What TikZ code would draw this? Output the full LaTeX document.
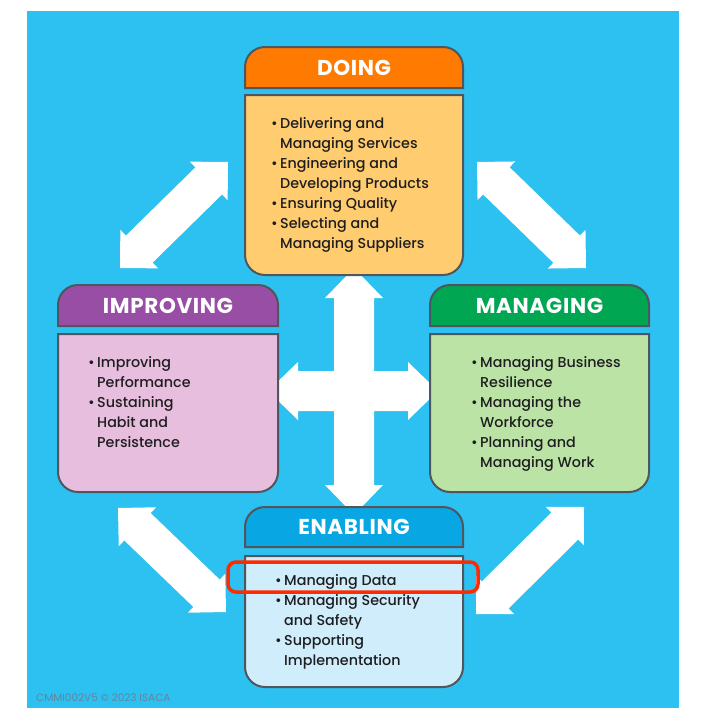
\documentclass[tikz,border=0pt]{standalone}
\usepackage{fontspec}
\setmainfont{Poppins}
\newfontfamily\medfont{Poppins Medium}
\newfontfamily\titlefont{Poppins}[LetterSpace=3]
\usetikzlibrary{calc}
\definecolor{bg}{RGB}{44,193,240}
\definecolor{bordercol}{RGB}{80,86,94}
\definecolor{doH}{RGB}{255,122,0}
\definecolor{doB}{RGB}{255,205,111}
\definecolor{imH}{RGB}{152,78,165}
\definecolor{imB}{RGB}{232,190,222}
\definecolor{maH}{RGB}{0,166,81}
\definecolor{maB}{RGB}{188,227,166}
\definecolor{enH}{RGB}{8,166,226}
\definecolor{enB}{RGB}{207,237,251}
\definecolor{hlred}{RGB}{255,42,0}
\definecolor{txt}{RGB}{30,30,32}
\definecolor{copy}{RGB}{100,132,158}
\newcommand\bul{\makebox[9pt][l]{\textbullet}}
\newcommand\ind{\hspace*{9pt}}
% header: #1 left x, #2 top y, #3 right x, #4 bottom y, #5 colour
\newcommand\headshape[5]{%
  \filldraw[boxline, fill=#5] (#1,#4) -- (#1,#2+20) arc[start angle=180, end angle=270, radius=20]
    -- (#3-20,#2) arc[start angle=270, end angle=360, radius=20] -- (#3,#4) -- cycle;}
\newcommand\bodyshape[5]{%
  \filldraw[boxline, fill=#5] (#1,#2) -- (#3,#2) -- (#3,#4-20) arc[start angle=0, end angle=90, radius=20]
    -- (#1+20,#4) arc[start angle=90, end angle=180, radius=20] -- cycle;}
% block double arrow between named tips #1 and #2
\newcommand\blockarrow[5]{%
  \fill[white] (#1) -- ($(#1)!#5!(#2)!#3!-90:(#2)$) -- ($(#1)!#5!(#2)!#4!-90:(#2)$)
    -- ($(#2)!#5!(#1)!#4!90:(#1)$) -- ($(#2)!#5!(#1)!#3!90:(#1)$) -- (#2)
    -- ($(#2)!#5!(#1)!#3!-90:(#1)$) -- ($(#2)!#5!(#1)!#4!-90:(#1)$)
    -- ($(#1)!#5!(#2)!#4!90:(#2)$) -- ($(#1)!#5!(#2)!#3!90:(#2)$) -- cycle;}
\begin{document}
\begin{tikzpicture}[x=1pt,y=-1pt,
  boxline/.style={draw=bordercol, line width=2pt},
  title/.style={text=white, font=\titlefont\fontsize{21.5}{24}\selectfont\bfseries, inner sep=0pt},
  items/.style={text=txt, font=\medfont\fontsize{14.3}{20}\selectfont, align=left, inner sep=0pt, anchor=base west}]
\useasboundingbox (0,0) rectangle (725,720);
\fill[bg] (27,11) rectangle (679,708);

% arrows (connectors)
\coordinate (crossN) at (354,268);
\coordinate (crossS) at (354,515);
\coordinate (crossW) at (268,391);
\coordinate (crossE) at (438,391);
\blockarrow{crossN}{crossS}{29pt}{20pt}{30pt}
\blockarrow{crossW}{crossE}{29pt}{20pt}{30pt}
\coordinate (tlA) at (120,268);
\coordinate (tlB) at (228,162);
\coordinate (trA) at (477,162);
\coordinate (trB) at (586,268);
\coordinate (blA) at (118,508);
\coordinate (blB) at (226,612);
\coordinate (brA) at (476,614);
\coordinate (brB) at (584,507);
\blockarrow{tlA}{tlB}{27pt}{19pt}{27pt}
\blockarrow{trA}{trB}{27pt}{19pt}{27pt}
\blockarrow{blA}{blB}{27pt}{19pt}{27pt}
\blockarrow{brA}{brB}{27pt}{19pt}{27pt}

% DOING
\headshape{245}{47}{463}{88}{doH}
\bodyshape{245}{95}{463}{275}{doB}
\node[title] (doingT) at (354,68) {DOING};
\node[items] (doingL) at (271,248) {\bul Delivering and\\\ind Managing Services\\\bul Engineering and\\\ind Developing Products\\\bul Ensuring Quality\\\bul Selecting and\\\ind Managing Suppliers};

% IMPROVING
\headshape{58}{285}{278}{326}{imH}
\bodyshape{58}{334}{278}{492}{imB}
\node[title] (improvT) at (168,306) {IMPROVING};
\node[items] (improvL) at (88,447) {\bul Improving\\\ind Performance\\\bul Sustaining\\\ind Habit and\\\ind Persistence};

% MANAGING
\headshape{430}{285}{649}{326}{maH}
\bodyshape{430}{334}{649}{492}{maB}
\node[title] (managT) at (539.5,306) {MANAGING};
\node[items] (managL) at (471,467) {\bul Managing Business\\\ind Resilience\\\bul Managing the\\\ind Workforce\\\bul Planning and\\\ind Managing Work};

% ENABLING
\headshape{245}{507}{463}{547}{enH}
\bodyshape{245}{556}{463}{687}{enB}
\node[title] (enablT) at (354,527) {ENABLING};
\node[items] (enablL) at (275,665) {\bul Managing Data\\\bul Managing Security\\\ind and Safety\\\bul Supporting\\\ind Implementation};

% highlight
\draw[hlred, line width=3.5pt, rounded corners=8pt] (228,562) rectangle (478,592);

% copyright
\node[text=copy, font=\fontsize{10.5}{12}\selectfont, anchor=base west, inner sep=0pt] (copyr) at (36,701) {CMMI002V5 © 2023 ISACA};
\end{tikzpicture}
\end{document}
